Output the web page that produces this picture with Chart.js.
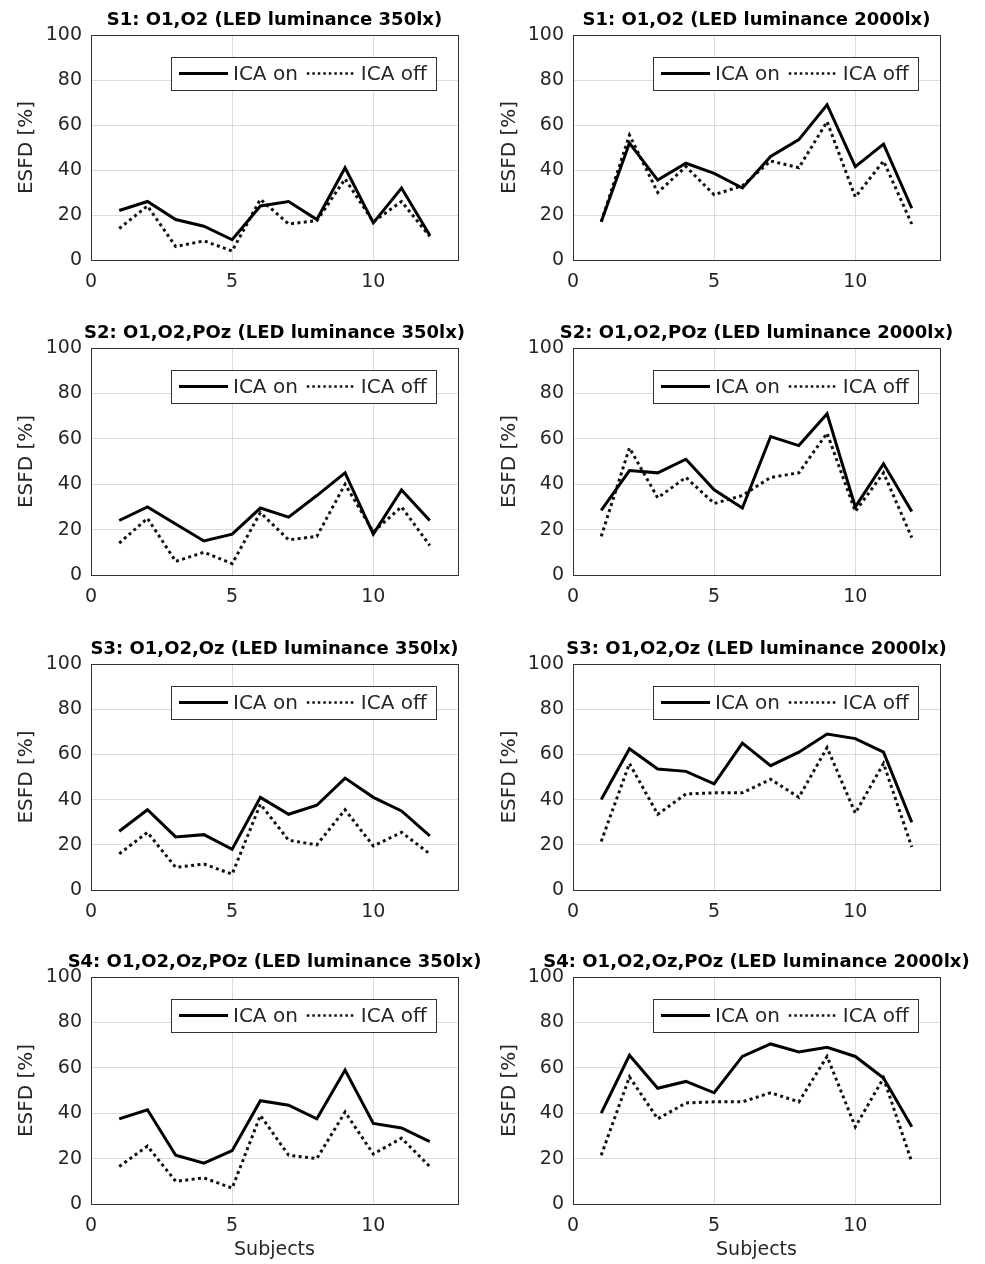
<!DOCTYPE html>
<html>
<head>
<meta charset="utf-8">
<script src="https://cdn.jsdelivr.net/npm/chart.js@4.4.1/dist/chart.umd.min.js"></script>
<style>
  body { margin: 0; background: #fff; }
  #wrap { position: relative; width: 985px; height: 1264px; overflow: hidden; }
  .panel { position: absolute; }
</style>
</head>
<body>
<div id="wrap"></div>
<script>
// data (subjects 1..12)
const subjects = [1, 2, 3, 4, 5, 6, 7, 8, 9, 10, 11, 12];
const xTicks = [0, 5, 10];
const yTicks = [0, 20, 40, 60, 80, 100];

const s1Lux350On   = [22, 26, 18, 15, 9, 24, 26, 18, 41, 16.5, 32, 11];
const s1Lux350Off  = [14, 24, 6, 8.5, 4, 27, 16, 17.5, 36, 17, 26, 10.5];
const s1Lux2000On  = [17, 52, 35.5, 43, 38.5, 32, 46, 53.5, 69, 41.5, 51.5, 23];
const s1Lux2000Off = [17, 55.5, 30, 41.5, 29, 33, 44, 41, 61.5, 28, 44, 16];

const s2Lux350On   = [24, 30, 22.5, 15, 18, 29.5, 25.5, 35, 45, 18, 37.5, 24];
const s2Lux350Off  = [14, 25, 6, 10, 5, 27.5, 15.5, 17, 40, 19, 30, 13];
const s2Lux2000On  = [28.5, 46, 45, 51, 37.5, 29.5, 61, 57, 71, 30, 49, 28];
const s2Lux2000Off = [17, 56, 34, 43, 31.5, 35, 43, 45, 62.5, 28, 45, 16.5];

const s3Lux350On   = [26, 35.5, 23.5, 24.5, 18, 41, 33.5, 37.5, 49.5, 41, 35, 24];
const s3Lux350Off  = [16, 25.5, 10, 11.5, 7, 38, 22, 20, 35.5, 19.5, 25.5, 16];
const s3Lux2000On  = [40, 62.5, 53.5, 52.5, 47, 65, 55, 61, 69, 67, 61, 30];
const s3Lux2000Off = [21.5, 56, 33.5, 42.5, 43, 43, 49, 41, 63, 34, 56, 19];

const s4Lux350On   = [37.5, 41.5, 21.5, 18, 23.5, 45.5, 43.5, 37.5, 59, 35.5, 33.5, 27.5];
const s4Lux350Off  = [16.5, 25.5, 10, 11.5, 7, 39, 21.5, 20, 40.5, 22, 29, 16.5];
const s4Lux2000On  = [40, 65.5, 51, 54, 49, 65, 70.5, 67, 69, 65, 55.5, 34];
const s4Lux2000Off = [21.5, 56, 37.5, 44.5, 45, 45, 49, 45, 65, 34, 55.5, 18.5];

const panelTitles = [
  'S1: O1,O2 (LED luminance 350lx)', 'S1: O1,O2 (LED luminance 2000lx)',
  'S2: O1,O2,POz (LED luminance 350lx)', 'S2: O1,O2,POz (LED luminance 2000lx)',
  'S3: O1,O2,Oz (LED luminance 350lx)', 'S3: O1,O2,Oz (LED luminance 2000lx)',
  'S4: O1,O2,Oz,POz (LED luminance 350lx)', 'S4: O1,O2,Oz,POz (LED luminance 2000lx)'
];
const panelOn  = [s1Lux350On, s1Lux2000On, s2Lux350On, s2Lux2000On, s3Lux350On, s3Lux2000On, s4Lux350On, s4Lux2000On];
const panelOff = [s1Lux350Off, s1Lux2000Off, s2Lux350Off, s2Lux2000Off, s3Lux350Off, s3Lux2000Off, s4Lux350Off, s4Lux2000Off];

Chart.defaults.font.family = '"DejaVu Sans", sans-serif';
Chart.defaults.font.size = 19;
Chart.defaults.color = '#262626';

// axes box (top + right sides too, like matlab "box on")
const frame = {
  id: 'frame',
  afterDatasetsDraw(chart) {
    const { ctx, chartArea: a } = chart;
    ctx.save();
    ctx.strokeStyle = '#333';
    ctx.lineWidth = 1;
    ctx.strokeRect(Math.round(a.left) + 0.5, Math.round(a.top) + 0.5, Math.round(a.right - a.left), Math.round(a.bottom - a.top));
    ctx.restore();
  }
};

// legend inside the axes, top right, with a border
const boxLegend = {
  id: 'boxLegend',
  afterDatasetsDraw(chart) {
    const { ctx, chartArea: a } = chart;
    const sets = chart.data.datasets;
    ctx.save();
    ctx.font = '20px "DejaVu Sans"';
    const lineLen = 49, padL = 8, gap = 5, sep = 9, padR = 9, h = 33;
    let w = padL + padR;
    sets.forEach((ds, i) => { w += lineLen + gap + ctx.measureText(ds.label).width + (i ? sep : 0); });
    w = Math.round(w);
    const x0 = Math.round(a.right - 22 - w), y0 = Math.round(a.top + 22);
    ctx.fillStyle = '#fff';
    ctx.fillRect(x0, y0, w, h);
    ctx.strokeStyle = '#333';
    ctx.lineWidth = 1;
    ctx.strokeRect(x0 + 0.5, y0 + 0.5, w, h);
    let x = x0 + padL;
    const cy = y0 + h / 2;
    sets.forEach((ds, i) => {
      if (i) x += sep;
      ctx.beginPath();
      ctx.setLineDash(ds.borderDash ? [2.5, 3] : []);
      ctx.lineWidth = ds.borderDash ? 2.5 : ds.borderWidth;
      ctx.strokeStyle = ds.borderColor;
      ctx.moveTo(x, cy);
      ctx.lineTo(x + lineLen, cy);
      ctx.stroke();
      ctx.setLineDash([]);
      x += lineLen + gap;
      ctx.fillStyle = '#262626';
      ctx.textBaseline = 'middle';
      ctx.fillText(ds.label, x, cy + 1);
      x += ctx.measureText(ds.label).width;
    });
    ctx.restore();
  }
};

// bold title centred over the axes (may be wider than the axes)
const panelTitle = {
  id: 'panelTitle',
  afterDraw(chart, args, opts) {
    const { ctx, chartArea: a } = chart;
    ctx.save();
    ctx.font = 'bold 18px "DejaVu Sans"';
    ctx.fillStyle = '#000';
    ctx.textAlign = 'center';
    ctx.textBaseline = 'middle';
    ctx.fillText(opts.text, (a.left + a.right) / 2, a.top - 15);
    ctx.restore();
  }
};

const plotTop = [35, 348, 664, 977];
const plotH = [225, 227, 226, 227];
const wrap = document.getElementById('wrap');

panelTitles.forEach((title, i) => {
  const row = Math.floor(i / 2), col = i % 2;
  const last = row === 3;
  const xAxisH = last ? 60 : 40;
  const div = document.createElement('div');
  div.className = 'panel';
  div.style.left = (col ? 490 : 0) + 'px';
  div.style.top = (plotTop[row] - 35) + 'px';
  div.style.width = (col ? 495 : 490) + 'px';
  div.style.height = (35 + plotH[row] + xAxisH) + 'px';
  const cv = document.createElement('canvas');
  div.appendChild(cv);
  wrap.appendChild(div);

  new Chart(cv, {
    type: 'line',
    data: {
      datasets: [
        {
          label: 'ICA on',
          data: subjects.map((s, k) => ({ x: s, y: panelOn[i][k] })),
          borderColor: '#000',
          borderWidth: 3,
          pointRadius: 0,
          tension: 0
        },
        {
          label: 'ICA off',
          data: subjects.map((s, k) => ({ x: s, y: panelOff[i][k] })),
          borderColor: '#111',
          borderWidth: 3,
          borderDash: [3, 3.4],
          pointRadius: 0,
          tension: 0
        }
      ]
    },
    options: {
      responsive: true,
      maintainAspectRatio: false,
      animation: false,
      layout: { padding: { top: 35, left: 0, right: col ? 45 : 32, bottom: 0 } },
      plugins: {
        legend: { display: false },
        tooltip: { enabled: false },
        panelTitle: { text: title }
      },
      scales: {
        x: {
          type: 'linear',
          min: 0,
          max: 13,
          afterBuildTicks: s => { s.ticks = xTicks.map(v => ({ value: v })); },
          afterFit: s => { s.height = xAxisH; },
          ticks: { padding: 11, color: '#262626', font: { size: 19 } },
          grid: { color: '#dcdcdc', drawTicks: false },
          border: { color: '#333' },
          title: {
            display: last,
            text: 'Subjects',
            color: '#262626',
            font: { size: 19 },
            padding: { top: 0, bottom: 2.6 }
          }
        },
        y: {
          min: 0,
          max: 100,
          afterBuildTicks: s => { s.ticks = yTicks.map(v => ({ value: v })); },
          afterFit: s => { s.width = col ? 83 : 91; },
          ticks: { padding: 9, color: '#262626', font: { size: 19 } },
          grid: { color: '#dcdcdc', drawTicks: false },
          border: { color: '#333' },
          title: {
            display: true,
            text: 'ESFD [%]',
            color: '#262626',
            font: { size: 20 },
            padding: { top: col ? 8 : 15, bottom: 0 }
          }
        }
      }
    },
    plugins: [frame, boxLegend, panelTitle]
  });
});
</script>
</body>
</html>
